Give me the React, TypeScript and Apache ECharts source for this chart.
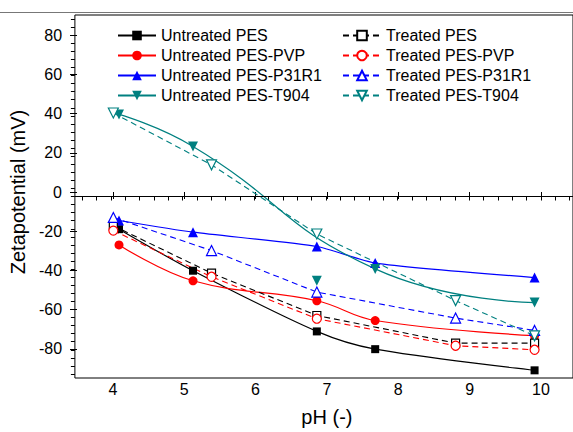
import React, { useEffect, useRef } from "react";
import * as echarts from "echarts";

// ---- data ----
const untreatedPH = [4.12, 5.16, 6.9, 7.72, 9.96];
const treatedPH = [4.04, 5.42, 6.9, 8.85, 9.96];

const untreatedPES = [-16.2, -36.8, -66.9, -75.7, -86.2];
const untreatedPVP = [-24.0, -41.8, -51.7, -61.5, -69.0];
const untreatedP31R1 = [-11.9, -17.7, -24.8, -33.0, -40.2];
const untreatedT904 = [40.7, 24.8, -41.8, -35.9, -52.6];
// index of the T904 point that the fitted curve in the figure does not pass through
const t904OffFitIndex = 2;

const treatedPES = [-14.5, -38.0, -59.0, -72.7, -72.7];
const treatedPVP = [-16.9, -39.8, -60.6, -74.0, -76.0];
const treatedP31R1 = [-10.4, -26.8, -47.4, -60.3, -66.4];
const treatedT904 = [41.4, 15.7, -18.6, -51.6, -69.1];

const seriesNamesLeft = [
  "Untreated PES",
  "Untreated PES-PVP",
  "Untreated PES-P31R1",
  "Untreated PES-T904",
];
const seriesNamesRight = [
  "Treated PES",
  "Treated PES-PVP",
  "Treated PES-P31R1",
  "Treated PES-T904",
];

const xTickLabels = [4, 5, 6, 7, 8, 9, 10];
const yTickLabels = [-80, -60, -40, -20, 0, 20, 40, 60, 80];

const COLORS = ["#000000", "#ff0000", "#0000ff", "#008080"];
const DOWN_TRI = "path://M0,0L10,0L5,10Z";
const SYMBOLS = ["rect", "circle", "triangle", DOWN_TRI];
const SIZES = [8, 9, 10, 10];

const FONT = "'Liberation Sans', Arial, Helvetica, sans-serif";

function pairs(xs: number[], ys: number[]) {
  return xs.map((x, i) => [x, ys[i]]);
}

// plot frame geometry
const X_MIN = 3.5;
const X_MAX = 10.5;
const Y_MIN = -90;
const Y_MAX = 90;
const FRAME_LEFT = 74.9;
const FRAME_TOP = 15;
const FRAME_W = 7 * 71.7;
const FRAME_H = 363;
const PX_X = FRAME_W / (X_MAX - X_MIN);
const PX_Y = FRAME_H / (Y_MAX - Y_MIN);

function subGrid(x0: number, x1: number, y0: number, y1: number) {
  return {
    left: FRAME_LEFT + (x0 - X_MIN) * PX_X,
    width: (x1 - x0) * PX_X,
    top: FRAME_TOP + (Y_MAX - y1) * PX_Y,
    height: (y1 - y0) * PX_Y,
    xOffset: (y0 - Y_MIN) * PX_Y,
    yOffset: (x0 - X_MIN) * PX_X,
  };
}

export default function App() {
  const ref = useRef<HTMLDivElement>(null);

  useEffect(() => {
    if (!ref.current) return;
    const chart = echarts.init(ref.current, null, { renderer: "svg" });

    const untreatedVals = [untreatedPES, untreatedPVP, untreatedP31R1, untreatedT904];
    const treatedVals = [treatedPES, treatedPVP, treatedP31R1, treatedT904];
    const untreatedSmooth = [0.3, 0.4, 0.2, 0.5];

    const series: any[] = [];
    untreatedVals.forEach((vals, i) => {
      let data = pairs(untreatedPH, vals);
      if (i === 3) data = data.filter((_, k) => k !== t904OffFitIndex);
      series.push({
        name: seriesNamesLeft[i],
        type: "line",
        xAxisIndex: 0,
        yAxisIndex: 0,
        data,
        smooth: untreatedSmooth[i],
        symbol: SYMBOLS[i],
        symbolSize: SIZES[i],
        itemStyle: { color: COLORS[i] },
        lineStyle: { color: COLORS[i], width: 1.2, type: "solid" },
        z: 3,
        ...(i === 0
          ? {
              markLine: {
                silent: true,
                symbol: ["none", "none"],
                label: { show: false },
                lineStyle: { color: "#000", type: "solid", width: 1 },
                data: [{ yAxis: 0 }],
              },
            }
          : {}),
      });
    });
    // the T904 point that lies off the fitted curve
    series.push({
      name: "T904 off-fit point",
      type: "scatter",
      xAxisIndex: 0,
      yAxisIndex: 0,
      data: [[untreatedPH[t904OffFitIndex], untreatedT904[t904OffFitIndex]]],
      symbol: SYMBOLS[3],
      symbolSize: SIZES[3],
      itemStyle: { color: COLORS[3], opacity: 1 },
      z: 3,
    });
    treatedVals.forEach((vals, i) => {
      series.push({
        name: seriesNamesRight[i],
        type: "line",
        xAxisIndex: 0,
        yAxisIndex: 0,
        data: pairs(treatedPH, vals),
        smooth: false,
        symbol: SYMBOLS[i],
        symbolSize: SIZES[i],
        itemStyle: { color: "#ffffff", borderColor: COLORS[i], borderWidth: 1.2 },
        lineStyle: { color: COLORS[i], width: 1.1, type: [6, 4] },
        z: 3,
      });
    });

    const hidden = {
      axisLine: { show: false },
      axisTick: { show: false },
      axisLabel: { show: false },
      splitLine: { show: false },
    };

    const legendCommon = {
      orient: "vertical",
      top: 27.5,
      padding: 0,
      itemWidth: 38,
      itemHeight: 12,
      itemGap: 4,
      selectedMode: false,
      textStyle: { fontSize: 16, color: "#000", fontFamily: FONT },
    };

    const minor = subGrid(3.6, 10.4, -88, 88);
    const major = subGrid(
      xTickLabels[0],
      xTickLabels[xTickLabels.length - 1],
      yTickLabels[0],
      yTickLabels[yTickLabels.length - 1]
    );

    const option: any = {
      animation: false,
      backgroundColor: "#ffffff",
      graphic: [
        {
          type: "line",
          shape: { x1: 0, y1: 12.5, x2: 573, y2: 12.5 },
          style: { stroke: "#777", lineWidth: 1 },
          silent: true,
        },
      ],
      legend: [
        { ...legendCommon, left: 117, data: seriesNamesLeft },
        { ...legendCommon, left: 342, data: seriesNamesRight },
      ],
      grid: [
        {
          left: FRAME_LEFT,
          top: FRAME_TOP,
          width: FRAME_W,
          height: FRAME_H,
          show: true,
          borderColor: "#000",
          borderWidth: 1,
          backgroundColor: "transparent",
        },
        { left: minor.left, top: minor.top, width: minor.width, height: minor.height },
        { left: major.left, top: major.top, width: major.width, height: major.height },
      ],
      xAxis: [
        { type: "value", gridIndex: 0, min: X_MIN, max: X_MAX, ...hidden },
        {
          type: "value",
          gridIndex: 1,
          min: 3.6,
          max: 10.4,
          interval: 0.2,
          offset: minor.xOffset,
          axisLine: { show: false },
          axisTick: { show: true, length: 4, lineStyle: { color: "#000", width: 1 } },
          axisLabel: { show: false },
          splitLine: { show: false },
        },
        {
          type: "value",
          gridIndex: 2,
          min: xTickLabels[0],
          max: xTickLabels[xTickLabels.length - 1],
          interval: 1,
          offset: major.xOffset,
          axisLine: { show: false },
          axisTick: { show: true, length: 7, lineStyle: { color: "#000", width: 1 } },
          axisLabel: {
            show: true,
            margin: 12,
            fontSize: 16,
            color: "#000",
            fontFamily: FONT,
          },
          splitLine: { show: false },
          name: "pH (-)",
          nameLocation: "middle",
          nameGap: 38,
          nameTextStyle: { fontSize: 20, color: "#000", fontFamily: FONT },
        },
      ],
      yAxis: [
        { type: "value", gridIndex: 0, min: Y_MIN, max: Y_MAX, ...hidden },
        {
          type: "value",
          gridIndex: 1,
          min: -88,
          max: 88,
          interval: 4,
          offset: minor.yOffset,
          axisLine: { show: false },
          axisTick: { show: true, length: 4, lineStyle: { color: "#000", width: 1 } },
          axisLabel: { show: false },
          splitLine: { show: false },
        },
        {
          type: "value",
          gridIndex: 2,
          min: yTickLabels[0],
          max: yTickLabels[yTickLabels.length - 1],
          interval: 20,
          offset: major.yOffset,
          axisLine: { show: false },
          axisTick: { show: true, length: 7, lineStyle: { color: "#000", width: 1 } },
          axisLabel: {
            show: true,
            margin: 15,
            fontSize: 16,
            color: "#000",
            fontFamily: FONT,
          },
          splitLine: { show: false },
          name: "Zetapotential (mV)",
          nameLocation: "middle",
          nameGap: 39,
          nameTextStyle: { fontSize: 20, color: "#000", fontFamily: FONT },
        },
      ],
      series,
    };

    chart.setOption(option);
    return () => chart.dispose();
  }, []);

  return (
    <div
      ref={ref}
      style={{ position: "fixed", left: 0, top: 0, width: 573, height: 432 }}
    />
  );
}
